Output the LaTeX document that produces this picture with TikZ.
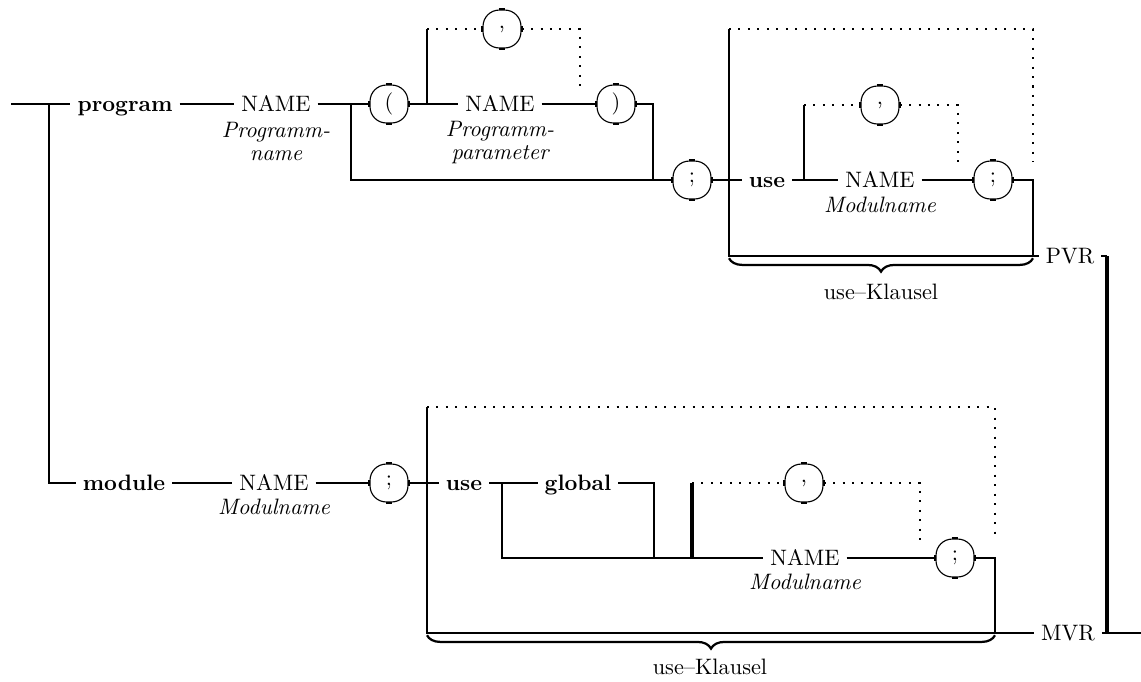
\documentclass[tikz,border=0pt]{standalone}
\usetikzlibrary{decorations.pathreplacing}
% thick straight pieces on the sides of an oval terminal box
\newcommand\ovalmarks[1]{%
  \draw[line width=0.9pt]
    ([yshift=1.5pt]#1.west) -- ([yshift=-1.5pt]#1.west)
    ([yshift=1.5pt]#1.east) -- ([yshift=-1.5pt]#1.east)
    ([xshift=-1.5pt]#1.north) -- ([xshift=1.5pt]#1.north)
    ([xshift=-1.5pt]#1.south) -- ([xshift=1.5pt]#1.south);}
\begin{document}
\begin{tikzpicture}[x=0.448pt,y=-0.448pt,
  conn/.style={line width=0.95pt},
  heavy/.style={line width=1.5pt},
  dots/.style={line width=0.9pt,dash pattern=on 0.9pt off 3.35pt},
  lbl/.style={inner xsep=3pt,inner ysep=0pt,text height=8pt,text depth=1.7pt},
  kw/.style={lbl,font=\bfseries},
  nm/.style={lbl},
  sub/.style={font=\itshape,align=center,inner sep=0pt,anchor=north},
  ovalbox/.style={draw,line width=0.5pt,rounded corners=7.3pt,minimum width=17pt,
    minimum height=17pt,inner sep=0pt},
  brc/.style={decorate,decoration={brace,mirror,amplitude=6pt},line width=1pt}]
\useasboundingbox (0,0) rectangle (1141,681);

% ---------------- program branch ----------------
\coordinate (s0) at (11,104);
\coordinate (j0) at (49,104);
\node[kw] (prog) at (125,104) {program};
\node[nm] (n1) at (276,104) {NAME};
\node[sub] (n1s) at (276,122) {Programm-\\[-1.7pt]name};
\coordinate (j1) at (351,104);
\node[ovalbox] (lp) at (389,104) {(};
\coordinate (j2) at (427,104);
\coordinate (j2t) at (427,29);
\node[ovalbox] (c1) at (502,29) {,};
\coordinate (c1r) at (580,29);
\coordinate (c1e) at (580,86);
\node[nm] (n2) at (500,104) {NAME};
\node[sub] (n2s) at (500,121) {Programm-\\[-1.7pt]parameter};
\node[ovalbox] (rp) at (616,104) {)};
\coordinate (j3) at (653,104);
\coordinate (j1b) at (351,180);
\coordinate (j3b) at (653,180);
\node[ovalbox] (s1) at (692,180) {;};
\coordinate (j4) at (729,180);
\coordinate (j4t) at (729,29);
\coordinate (j4b) at (729,256);
\coordinate (o1r) at (1033,29);
\coordinate (o1e) at (1033,162);
\node[kw] (use1) at (767,180) {use};
\coordinate (j5) at (804,180);
\coordinate (j5t) at (804,105);
\node[ovalbox] (c2) at (880,105) {,};
\coordinate (c2r) at (958,105);
\coordinate (c2e) at (958,162);
\node[nm] (n3) at (880,180) {NAME};
\node[sub] (n3s) at (880,197) {Modulname};
\node[ovalbox] (s2) at (993,180) {;};
\coordinate (j6) at (1033,180);
\coordinate (j6b) at (1033,256);
\node[nm] (pvr) at (1070,256) {PVR};
\coordinate (k1) at (1107,256);
\coordinate (k2) at (1107,633);
\coordinate (e0) at (1141,633);
\node (uk1) at (881,292) {use--Klausel};

% ---------------- module branch ----------------
\coordinate (j0b) at (49,483);
\node[kw] (mod) at (124,483) {module};
\node[nm] (n4) at (274,483) {NAME};
\node[sub] (n4s) at (274,499) {Modulname};
\node[ovalbox] (s3) at (389,483) {;};
\coordinate (j7) at (427,483);
\coordinate (j7t) at (427,407);
\coordinate (j7b) at (427,633);
\coordinate (o2r) at (995,407);
\coordinate (o2e) at (995,540);
\node[kw] (use2) at (464,483) {use};
\coordinate (j8) at (502,483);
\coordinate (j8b) at (502,558);
\node[kw] (glob) at (578,483) {global};
\coordinate (g1) at (654,483);
\coordinate (g1b) at (654,558);
\coordinate (j9) at (692,558);
\coordinate (j9t) at (692,483);
\node[ovalbox] (c3) at (804,483) {,};
\coordinate (c3r) at (920,483);
\coordinate (c3e) at (920,540);
\node[nm] (n5) at (805,558) {NAME};
\node[sub] (n5s) at (805,574) {Modulname};
\node[ovalbox] (s4) at (955,558) {;};
\coordinate (j10) at (995,558);
\coordinate (j10b) at (995,633);
\node[nm] (mvr) at (1068,633) {MVR};
\node (uk2) at (710,667) {use--Klausel};

\foreach \b in {lp,c1,rp,s1,c2,s2,s3,c3,s4} {\ovalmarks{\b}}

% ---------------- connectors: program ----------------
\draw[conn] (s0) -- (prog.west);
\draw[conn] (j0) -- (j0b) -- (mod.west);
\draw[conn] (prog.east) -- (n1.west);
\draw[conn] (n1.east) -- (lp.west);
\draw[conn] (j1) -- (j1b) -- (s1.west);
\draw[conn] (lp.east) -- (n2.west);
\draw[conn] (j2) -- (j2t);
\draw[dots] (j2t) -- (c1.west);
\draw[dots] (c1.east) -- (c1r) -- (c1e);
\draw[conn] (n2.east) -- (rp.west);
\draw[conn] (rp.east) -- (j3) -- (j3b);
\draw[conn] (s1.east) -- (use1.west);
\draw[conn] (j4t) -- (j4b) -- (pvr.west);
\draw[dots] (j4t) -- (o1r) -- (o1e);
\draw[conn] (use1.east) -- (n3.west);
\draw[conn] (j5) -- (j5t);
\draw[dots] (j5t) -- (c2.west);
\draw[dots] (c2.east) -- (c2r) -- (c2e);
\draw[conn] (n3.east) -- (s2.west);
\draw[conn] (s2.east) -- (j6) -- (j6b);
\draw[conn] (pvr.east) -- (k1);
\draw[heavy] (k1) -- (k2);
\draw[brc] ([yshift=-1pt]j4b) -- ([yshift=-1pt]j6b);

% ---------------- connectors: module ----------------
\draw[conn] (mod.east) -- (n4.west);
\draw[conn] (n4.east) -- (s3.west);
\draw[conn] (s3.east) -- (use2.west);
\draw[conn] (j7t) -- (j7b) -- (mvr.west);
\draw[dots] (j7t) -- (o2r) -- (o2e);
\draw[conn] (use2.east) -- (glob.west);
\draw[conn] (j8) -- (j8b) -- (n5.west);
\draw[conn] (glob.east) -- (g1) -- (g1b);
\draw[heavy] (j9) -- (j9t);
\draw[dots] (j9t) -- (c3.west);
\draw[dots] (c3.east) -- (c3r) -- (c3e);
\draw[conn] (n5.east) -- (s4.west);
\draw[conn] (s4.east) -- (j10) -- (j10b);
\draw[conn] (mvr.east) -- (e0);
\draw[brc] ([yshift=-1pt]j7b) -- ([yshift=-1pt]j10b);
\end{tikzpicture}
\end{document}
